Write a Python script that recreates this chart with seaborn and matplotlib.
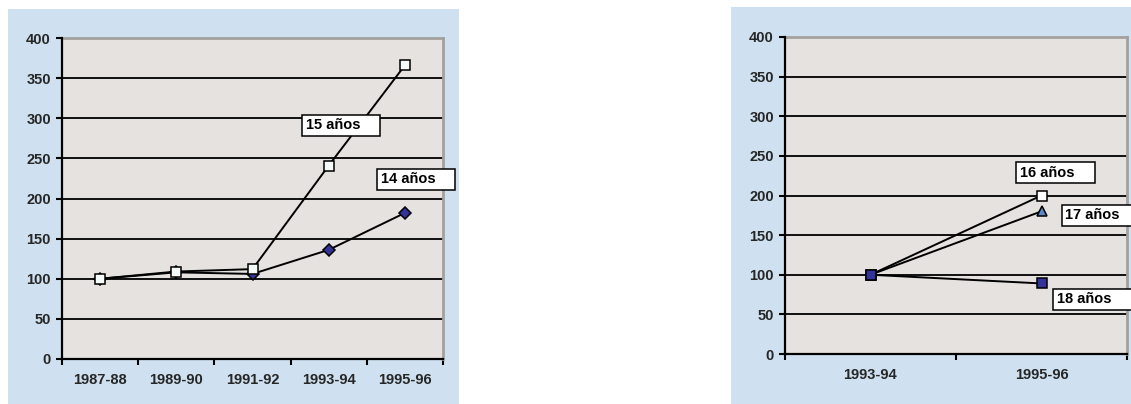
import numpy as np
import pandas as pd
import matplotlib
matplotlib.use("Agg")
import matplotlib.pyplot as plt
from matplotlib.patches import Rectangle
import seaborn as sns

sns.set_theme(style="white")
plt.rcParams["font.family"] = ["Liberation Sans", "DejaVu Sans"]
plt.rcParams["font.weight"] = "bold"

# Left panel: index (base 1987-88 = 100)
periodos_a = ["1987-88", "1989-90", "1991-92", "1993-94", "1995-96"]
edad_14 = [100, 108, 106, 136, 182]
edad_15 = [100, 109, 112, 241, 366]

# Right panel: index (base 1993-94 = 100)
periodos_b = ["1993-94", "1995-96"]
edad_16 = [100, 200]
edad_17 = [100, 180]
edad_18 = [100, 89]

y_ticks = [0, 50, 100, 150, 200, 250, 300, 350, 400]

BLUE_BG = "#cfe1f0"
PLOT_BG = "#e6e2df"
NAVY = "#333399"
MID_BLUE = "#5b88c8"
OFF_WHITE = "#f4fbf8"
FS = 10.5

fig = plt.figure(figsize=(11.31, 4.04), dpi=100)
W, H = 1131, 404

# panel backgrounds
fig.patches.append(Rectangle((8 / W, 0), 451 / W, 395 / H, transform=fig.transFigure,
                             fc=BLUE_BG, ec="none", zorder=-10))
fig.patches.append(Rectangle((731 / W, 0), 400 / W, 397 / H, transform=fig.transFigure,
                             fc=BLUE_BG, ec="none", zorder=-10))

ax1 = fig.add_axes([62 / W, 45 / H, 381 / W, 321 / H])
ax2 = fig.add_axes([785 / W, 50 / H, 342 / W, 317 / H])


def style_axes(ax, cats):
    n = len(cats)
    ax.set_facecolor(PLOT_BG)
    ax.set_xlim(-0.5, n - 0.5)
    ax.set_ylim(0, 400)
    ax.hlines(y_ticks[1:-1], 0, 1, transform=ax.get_yaxis_transform(),
              color="black", lw=1.3, zorder=1)
    ax.set_yticks(y_ticks)
    ax.set_yticklabels([str(v) for v in y_ticks], fontsize=FS, fontweight="bold")
    ax.set_xticks(np.arange(n + 1) - 0.5)
    ax.set_xticklabels([""] * (n + 1))
    ax.set_xticks(np.arange(n), minor=True)
    ax.set_xticklabels(cats, minor=True, fontsize=FS, fontweight="bold")
    ax.tick_params(axis="x", which="major", direction="out", length=4, width=1.5,
                   color="black", bottom=True)
    ax.tick_params(axis="x", which="minor", length=0, pad=10, bottom=True)
    ax.tick_params(axis="y", direction="out", length=4, width=1.5, color="black",
                   pad=4, left=True)
    for side in ("left", "bottom"):
        ax.spines[side].set_color("black")
        ax.spines[side].set_linewidth(1.6)
        ax.spines[side].set_zorder(5)
    for side in ("top", "right"):
        ax.spines[side].set_color("#a3a09d")
        ax.spines[side].set_linewidth(2)
    ax.set_xlabel("")
    ax.set_ylabel("")
    ax.grid(False)


def draw_series(ax, cats, values, marker, face, size):
    df = pd.DataFrame({"pos": np.arange(len(cats)), "indice": values})
    sns.lineplot(data=df, x="pos", y="indice", ax=ax, color="black", lw=1.4,
                 marker=marker, markersize=size, markerfacecolor=face,
                 markeredgecolor="black", markeredgewidth=1.1, sort=False, zorder=3)


def tag(ax, x, y, s):
    ax.text(x, y, s + "    ", ha="left", va="center", fontsize=FS, fontweight="bold",
            color="black", clip_on=False, zorder=6,
            bbox=dict(boxstyle="square,pad=0.25", fc="white", ec="black", lw=1.1))


draw_series(ax1, periodos_a, edad_14, "D", NAVY, 6)
draw_series(ax1, periodos_a, edad_15, "s", OFF_WHITE, 6.5)
style_axes(ax1, periodos_a)
tag(ax1, 2.70, 291, "15 años")
tag(ax1, 3.68, 224, "14 años")

draw_series(ax2, periodos_b, edad_16, "s", "white", 6.5)
draw_series(ax2, periodos_b, edad_17, "^", MID_BLUE, 7)
draw_series(ax2, periodos_b, edad_18, "s", NAVY, 6.5)
style_axes(ax2, periodos_b)
tag(ax2, 0.875, 229, "16 años")
tag(ax2, 1.14, 175, "17 años")
tag(ax2, 1.09, 69, "18 años")

fig.savefig("out.png", dpi=100)
